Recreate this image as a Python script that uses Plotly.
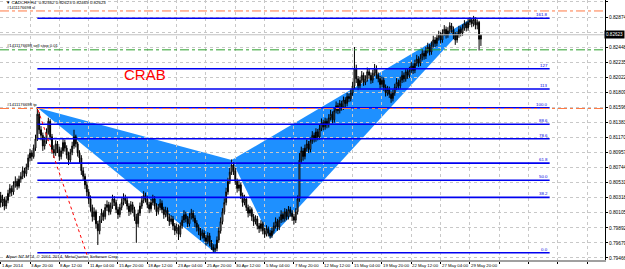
import plotly.graph_objects as go

# ---------------- data (CADCHF H4, 1 Apr - 30 May 2014) ----------------
opens = [
0.8030, 0.8035, 0.8025, 0.8030, 0.8020, 0.8028, 0.8038, 0.8045, 0.8040, 0.8050,
0.8055, 0.8048, 0.8058, 0.8062, 0.8070, 0.8066, 0.8075, 0.8088, 0.8095, 0.8090,
0.8102, 0.8115, 0.8150, 0.8128, 0.8120, 0.8105, 0.8112, 0.8125, 0.8140, 0.8118,
0.8100, 0.8095, 0.8108, 0.8100, 0.8090, 0.8098, 0.8110, 0.8102, 0.8092, 0.8085,
0.8096, 0.8105, 0.8118, 0.8108, 0.8095, 0.8088, 0.8070, 0.8062, 0.8050, 0.8040,
0.8030, 0.8018, 0.8005, 0.8012, 0.7995, 0.7985, 0.8000, 0.8010, 0.8005, 0.8018,
0.8022, 0.8012, 0.8020, 0.8030, 0.8025, 0.8015, 0.8008, 0.8018, 0.8025, 0.8032,
0.8028, 0.8020, 0.8012, 0.8022, 0.8015, 0.8005, 0.7995, 0.8010, 0.8020, 0.8028,
0.8035, 0.8030, 0.8022, 0.8016, 0.8025, 0.8030, 0.8020, 0.8012, 0.8018, 0.8024,
0.8015, 0.8008, 0.8014, 0.8005, 0.7998, 0.8002, 0.7992, 0.7985, 0.7990, 0.7980,
0.7992, 0.8000, 0.8008, 0.8002, 0.7995, 0.8005, 0.8010, 0.8003, 0.7996, 0.7990,
0.7985, 0.7978, 0.7982, 0.7975, 0.7970, 0.7978, 0.7968, 0.7962, 0.7958, 0.7960,
0.7972, 0.7985, 0.7998, 0.8012, 0.8025, 0.8040, 0.8055, 0.8068, 0.8078, 0.8070,
0.8055, 0.8045, 0.8050, 0.8035, 0.8025, 0.8030, 0.8018, 0.8010, 0.8015, 0.8005,
0.7998, 0.8002, 0.7992, 0.7988, 0.7995, 0.7985, 0.7980, 0.7988, 0.7982, 0.7978,
0.7985, 0.7992, 0.7998, 0.7990, 0.8000, 0.8008, 0.8002, 0.8012, 0.8005, 0.8015,
0.8010, 0.8005, 0.8000, 0.8012, 0.8030, 0.8085, 0.8098, 0.8090, 0.8102, 0.8108,
0.8100, 0.8112, 0.8120, 0.8115, 0.8125, 0.8118, 0.8130, 0.8138, 0.8132, 0.8140,
0.8135, 0.8145, 0.8150, 0.8142, 0.8155, 0.8162, 0.8155, 0.8165, 0.8160, 0.8170,
0.8165, 0.8175, 0.8172, 0.8180, 0.8190, 0.8215, 0.8200, 0.8190, 0.8198, 0.8205,
0.8195, 0.8200, 0.8210, 0.8205, 0.8198, 0.8208, 0.8215, 0.8205, 0.8200, 0.8192,
0.8198, 0.8188, 0.8180, 0.8185, 0.8178, 0.8172, 0.8180, 0.8188, 0.8195, 0.8190,
0.8198, 0.8205, 0.8200, 0.8210, 0.8205, 0.8212, 0.8218, 0.8212, 0.8222, 0.8228,
0.8222, 0.8230, 0.8236, 0.8232, 0.8240, 0.8245, 0.8238, 0.8248, 0.8255, 0.8250,
0.8258, 0.8262, 0.8255, 0.8265, 0.8270, 0.8262, 0.8268, 0.8275, 0.8270, 0.8262,
0.8255, 0.8262, 0.8270, 0.8265, 0.8272, 0.8278, 0.8272, 0.8280, 0.8283, 0.8278,
0.8284, 0.8276, 0.8280, 0.82562]

highs = [
0.8042, 0.8040, 0.8036, 0.8033, 0.8034, 0.8043, 0.8051, 0.8049, 0.8055, 0.8062,
0.8059, 0.8063, 0.8068, 0.8076, 0.8074, 0.8080, 0.8093, 0.8101, 0.8099, 0.8107,
0.8121, 0.8160, 0.8153, 0.8133, 0.8124, 0.8118, 0.8130, 0.8145, 0.8143, 0.8122,
0.8106, 0.8113, 0.8112, 0.8104, 0.8103, 0.8116, 0.8114, 0.8106, 0.8097, 0.8101,
0.8111, 0.8128, 0.8121, 0.8111, 0.8099, 0.8092, 0.8075, 0.8066, 0.8055, 0.8044,
0.8035, 0.8022, 0.8018, 0.8015, 0.7999, 0.8006, 0.8016, 0.8014, 0.8023, 0.8028,
0.8026, 0.8025, 0.8036, 0.8034, 0.8029, 0.8019, 0.8023, 0.8031, 0.8038, 0.8036,
0.8032, 0.8024, 0.8027, 0.8026, 0.8019, 0.8009, 0.8015, 0.8025, 0.8034, 0.8041,
0.8039, 0.8034, 0.8026, 0.8030, 0.8036, 0.8034, 0.8024, 0.8023, 0.8030, 0.8028,
0.8019, 0.8019, 0.8018, 0.8009, 0.8007, 0.8006, 0.7996, 0.7995, 0.7994, 0.7997,
0.8006, 0.8014, 0.8012, 0.8006, 0.8010, 0.8016, 0.8014, 0.8007, 0.8000, 0.7994,
0.7989, 0.7987, 0.7986, 0.7979, 0.7983, 0.7982, 0.7972, 0.7966, 0.7966, 0.7977,
0.7990, 0.8004, 0.8017, 0.8031, 0.8046, 0.8060, 0.8074, 0.8086, 0.8082, 0.8074,
0.8059, 0.8056, 0.8053, 0.8039, 0.8036, 0.8033, 0.8022, 0.8020, 0.8018, 0.8009,
0.8007, 0.8006, 0.7996, 0.8000, 0.7998, 0.7989, 0.7993, 0.7991, 0.7986, 0.7990,
0.7997, 0.8004, 0.8002, 0.8005, 0.8014, 0.8012, 0.8017, 0.8016, 0.8020, 0.8019,
0.8014, 0.8009, 0.8017, 0.8035, 0.8095, 0.8104, 0.8102, 0.8107, 0.8114, 0.8112,
0.8117, 0.8126, 0.8124, 0.8130, 0.8129, 0.8135, 0.8144, 0.8142, 0.8145, 0.8144,
0.8150, 0.8156, 0.8154, 0.8160, 0.8168, 0.8166, 0.8170, 0.8169, 0.8175, 0.8174,
0.8180, 0.8179, 0.8185, 0.8196, 0.8245, 0.8220, 0.8204, 0.8203, 0.8211, 0.8209,
0.8205, 0.8216, 0.8214, 0.8209, 0.8213, 0.8221, 0.8219, 0.8209, 0.8204, 0.8203,
0.8202, 0.8192, 0.8190, 0.8189, 0.8182, 0.8185, 0.8193, 0.8201, 0.8199, 0.8203,
0.8211, 0.8209, 0.8215, 0.8214, 0.8217, 0.8224, 0.8222, 0.8227, 0.8234, 0.8232,
0.8235, 0.8242, 0.8240, 0.8245, 0.8251, 0.8249, 0.8253, 0.8261, 0.8259, 0.8263,
0.8268, 0.8266, 0.8270, 0.8276, 0.8274, 0.8273, 0.8280, 0.8279, 0.8274, 0.8266,
0.8267, 0.8275, 0.8274, 0.8277, 0.8283, 0.8281, 0.8285, 0.8287, 0.8286, 0.8289,
0.8287, 0.8284, 0.8282, 0.82623]

lows = [
0.8020, 0.8018, 0.8019, 0.8014, 0.8016, 0.8024, 0.8033, 0.8034, 0.8036, 0.8046,
0.8043, 0.8045, 0.8053, 0.8058, 0.8060, 0.8062, 0.8071, 0.8083, 0.8084, 0.8087,
0.8098, 0.8112, 0.8122, 0.8113, 0.8098, 0.8100, 0.8108, 0.8121, 0.8113, 0.8094,
0.8088, 0.8091, 0.8095, 0.8084, 0.8086, 0.8094, 0.8097, 0.8087, 0.8078, 0.8082,
0.8092, 0.8101, 0.8103, 0.8090, 0.8081, 0.8064, 0.8056, 0.8044, 0.8034, 0.8023,
0.8012, 0.7998, 0.8000, 0.7988, 0.7965, 0.7980, 0.7996, 0.7999, 0.8001, 0.8013,
0.8007, 0.8008, 0.8016, 0.8020, 0.8010, 0.8002, 0.8004, 0.8014, 0.8021, 0.8023,
0.8015, 0.8006, 0.8008, 0.8010, 0.7999, 0.7968, 0.7990, 0.8006, 0.8016, 0.8024,
0.8025, 0.8017, 0.8010, 0.8012, 0.8021, 0.8015, 0.8006, 0.8008, 0.8014, 0.8010,
0.8002, 0.8004, 0.7999, 0.7992, 0.7994, 0.7986, 0.7979, 0.7981, 0.7972, 0.7976,
0.7988, 0.7996, 0.7997, 0.7990, 0.7991, 0.8001, 0.7998, 0.7990, 0.7984, 0.7979,
0.7972, 0.7974, 0.7970, 0.7964, 0.7966, 0.7963, 0.7958, 0.7955, 0.7954, 0.7956,
0.7968, 0.7981, 0.7994, 0.8008, 0.8021, 0.8036, 0.8051, 0.8064, 0.8064, 0.8050,
0.8039, 0.8041, 0.8030, 0.8019, 0.8021, 0.8013, 0.8004, 0.8006, 0.7999, 0.7992,
0.7994, 0.7987, 0.7982, 0.7984, 0.7980, 0.7975, 0.7977, 0.7977, 0.7974, 0.7975,
0.7981, 0.7988, 0.7985, 0.7986, 0.7996, 0.7997, 0.7998, 0.8000, 0.8001, 0.8005,
0.7999, 0.7994, 0.7996, 0.8008, 0.8026, 0.8080, 0.8084, 0.8086, 0.8097, 0.8095,
0.8096, 0.8108, 0.8110, 0.8111, 0.8113, 0.8114, 0.8126, 0.8127, 0.8128, 0.8130,
0.8131, 0.8141, 0.8137, 0.8138, 0.8151, 0.8150, 0.8151, 0.8155, 0.8156, 0.8160,
0.8161, 0.8167, 0.8168, 0.8176, 0.8186, 0.8194, 0.8184, 0.8186, 0.8194, 0.8190,
0.8191, 0.8196, 0.8200, 0.8193, 0.8194, 0.8204, 0.8200, 0.8195, 0.8186, 0.8188,
0.8183, 0.8175, 0.8176, 0.8173, 0.8166, 0.8168, 0.8176, 0.8184, 0.8185, 0.8186,
0.8194, 0.8195, 0.8196, 0.8200, 0.8201, 0.8208, 0.8207, 0.8208, 0.8218, 0.8217,
0.8218, 0.8226, 0.8227, 0.8228, 0.8236, 0.8233, 0.8234, 0.8244, 0.8245, 0.8246,
0.8254, 0.8250, 0.8251, 0.8261, 0.8257, 0.8258, 0.8264, 0.8265, 0.8256, 0.8248,
0.8251, 0.8258, 0.8260, 0.8261, 0.8268, 0.8267, 0.8268, 0.8276, 0.8273, 0.8274,
0.8270, 0.8270, 0.8240, 0.82465]

closes = [
0.8035, 0.8025, 0.8030, 0.8020, 0.8028, 0.8038, 0.8045, 0.8040, 0.8050, 0.8055,
0.8048, 0.8058, 0.8062, 0.8070, 0.8066, 0.8075, 0.8088, 0.8095, 0.8090, 0.8102,
0.8115, 0.8150, 0.8128, 0.8120, 0.8105, 0.8112, 0.8125, 0.8140, 0.8118, 0.8100,
0.8095, 0.8108, 0.8100, 0.8090, 0.8098, 0.8110, 0.8102, 0.8092, 0.8085, 0.8096,
0.8105, 0.8118, 0.8108, 0.8095, 0.8088, 0.8070, 0.8062, 0.8050, 0.8040, 0.8030,
0.8018, 0.8005, 0.8012, 0.7995, 0.7985, 0.8000, 0.8010, 0.8005, 0.8018, 0.8022,
0.8012, 0.8020, 0.8030, 0.8025, 0.8015, 0.8008, 0.8018, 0.8025, 0.8032, 0.8028,
0.8020, 0.8012, 0.8022, 0.8015, 0.8005, 0.7995, 0.8010, 0.8020, 0.8028, 0.8035,
0.8030, 0.8022, 0.8016, 0.8025, 0.8030, 0.8020, 0.8012, 0.8018, 0.8024, 0.8015,
0.8008, 0.8014, 0.8005, 0.7998, 0.8002, 0.7992, 0.7985, 0.7990, 0.7980, 0.7992,
0.8000, 0.8008, 0.8002, 0.7995, 0.8005, 0.8010, 0.8003, 0.7996, 0.7990, 0.7985,
0.7978, 0.7982, 0.7975, 0.7970, 0.7978, 0.7968, 0.7962, 0.7958, 0.7960, 0.7972,
0.7985, 0.7998, 0.8012, 0.8025, 0.8040, 0.8055, 0.8068, 0.8078, 0.8070, 0.8055,
0.8045, 0.8050, 0.8035, 0.8025, 0.8030, 0.8018, 0.8010, 0.8015, 0.8005, 0.7998,
0.8002, 0.7992, 0.7988, 0.7995, 0.7985, 0.7980, 0.7988, 0.7982, 0.7978, 0.7985,
0.7992, 0.7998, 0.7990, 0.8000, 0.8008, 0.8002, 0.8012, 0.8005, 0.8015, 0.8010,
0.8005, 0.8000, 0.8012, 0.8030, 0.8085, 0.8098, 0.8090, 0.8102, 0.8108, 0.8100,
0.8112, 0.8120, 0.8115, 0.8125, 0.8118, 0.8130, 0.8138, 0.8132, 0.8140, 0.8135,
0.8145, 0.8150, 0.8142, 0.8155, 0.8162, 0.8155, 0.8165, 0.8160, 0.8170, 0.8165,
0.8175, 0.8172, 0.8180, 0.8190, 0.8215, 0.8200, 0.8190, 0.8198, 0.8205, 0.8195,
0.8200, 0.8210, 0.8205, 0.8198, 0.8208, 0.8215, 0.8205, 0.8200, 0.8192, 0.8198,
0.8188, 0.8180, 0.8185, 0.8178, 0.8172, 0.8180, 0.8188, 0.8195, 0.8190, 0.8198,
0.8205, 0.8200, 0.8210, 0.8205, 0.8212, 0.8218, 0.8212, 0.8222, 0.8228, 0.8222,
0.8230, 0.8236, 0.8232, 0.8240, 0.8245, 0.8238, 0.8248, 0.8255, 0.8250, 0.8258,
0.8262, 0.8255, 0.8265, 0.8270, 0.8262, 0.8268, 0.8275, 0.8270, 0.8262, 0.8255,
0.8262, 0.8270, 0.8265, 0.8272, 0.8278, 0.8272, 0.8280, 0.8283, 0.8278, 0.8284,
0.8276, 0.8280, 0.8256, 0.82623]

bar_index = list(range(len(closes)))

time_tick_bars = [1, 17, 33, 49, 65, 81, 97, 113, 129, 145, 161, 177, 193, 209,
                  225, 241, 257, 273, 289, 305, 321]
time_tick_labels = ["1 Apr 2014", "3 Apr 20:00", "8 Apr 12:00", "11 Apr 04:00",
                    "15 Apr 20:00", "18 Apr 12:00", "23 Apr 04:00", "25 Apr 20:00",
                    "30 Apr 12:00", "5 May 04:00", "7 May 20:00", "12 May 12:00",
                    "15 May 04:00", "19 May 20:00", "22 May 12:00", "27 May 04:00",
                    "29 May 20:00"]

price_ticks = [0.83087, 0.82874, 0.82661, 0.82448, 0.82235, 0.82022, 0.81809,
               0.81596, 0.81383, 0.81170, 0.80957, 0.80744, 0.80531, 0.80318,
               0.80105, 0.79892, 0.79679, 0.79466]

# harmonic CRAB points X, A, B, C, D
pattern_bars = [21, 118, 127, 148, 259]
pattern_prices = [0.8159, 0.7954, 0.8085, 0.7974, 0.8287]

fib_ratios = [0.0, 0.382, 0.5, 0.618, 0.786, 0.886, 1.0, 1.13, 1.27, 1.618]
fib_labels = ["0.0", "38.2", "50.0", "61.8", "78.6", "88.6", "100.0", "113", "127", "161.8"]
fib_end_bar = 300.5

order_id = "#1411176698"
sl_price = 0.8296
entry_price = 0.8241
tp_price = 0.8158
last_price = 0.82623
header = "▼ CADCHF,H4  0.82562 0.82623 0.82465 0.82623"

trend_bars = [21.4, 48.6]
trend_prices = [0.8156, 0.7947]

# ---------------- figure ----------------
FONT = "Liberation Sans"
fig = go.Figure()

# pattern triangles XAB and BCD (drawn under the candles)
px_, pa, pb, pc, pd = pattern_bars
yx, ya, yb, yc, yd = pattern_prices
for (x1, y1), (x2, y2), (x3, y3) in [((px_, yx), (pa, ya), (pb, yb)),
                                     ((pb, yb), (pc, yc), (pd, yd))]:
    fig.add_shape(type="path", xref="x", yref="y",
                  path=f"M {x1},{y1} L {x2},{y2} L {x3},{y3} Z",
                  fillcolor="#1e90ff", line=dict(width=0), layer="below")

# horizontal order / price lines
for price, color, dash in [(last_price, "#c0c0c0", "solid"),
                           (sl_price, "#ff7a45", "dashdot"),
                           (tp_price, "#ff7a45", "dashdot"),
                           (entry_price, "#2ca02c", "dashdot")]:
    fig.add_shape(type="line", xref="paper", yref="y", x0=0, x1=1, y0=price, y1=price,
                  line=dict(color=color, width=1, dash=dash))

# fib levels
for r, lab in zip(fib_ratios, fib_labels):
    lvl = ya + r * (yx - ya)
    fig.add_trace(go.Scatter(x=[px_, fib_end_bar], y=[lvl, lvl], mode="lines",
                             line=dict(color="#0000f0", width=1.6),
                             hoverinfo="skip", showlegend=False))
    fig.add_annotation(x=fib_end_bar, y=lvl, text=lab, showarrow=False,
                       xanchor="right", yanchor="bottom", yshift=-1,
                       font=dict(family=FONT, size=4.4, color="#0000e0"))

# red dotted trend line
fig.add_trace(go.Scatter(x=trend_bars, y=trend_prices, mode="lines",
                         line=dict(color="#ff0000", width=1, dash="dot"),
                         hoverinfo="skip", showlegend=False))

# candles
fig.add_trace(go.Candlestick(
    x=bar_index, open=opens, high=highs, low=lows, close=closes,
    increasing=dict(line=dict(color="#000000", width=1), fillcolor="#ffffff"),
    decreasing=dict(line=dict(color="#000000", width=1), fillcolor="#000000"),
    whiskerwidth=0, showlegend=False, hoverinfo="skip"))

# time axis labels (left-aligned at their tick, MT4 style)
for b, lab in zip(time_tick_bars, time_tick_labels):
    fig.add_annotation(x=b, xref="x", yref="paper", y=0, text=lab, showarrow=False,
                       xanchor="left", yanchor="top", xshift=-1, yshift=-1,
                       font=dict(family=FONT, size=4.3, color="#000000"))

# texts
fig.add_annotation(xref="paper", yref="paper", x=0.006, y=1.0, text=header,
                   showarrow=False, xanchor="left", yanchor="top", yshift=2,
                   font=dict(family=FONT, size=4.4, color="#000000"))
fig.add_annotation(xref="paper", x=0.008, y=sl_price, text=order_id + " sl",
                   showarrow=False, xanchor="left", yanchor="middle", yshift=3,
                   font=dict(family=FONT, size=4, color="#000000"))
fig.add_annotation(xref="paper", x=0.008, y=entry_price, text=order_id + " sell stop 0.01",
                   showarrow=False, xanchor="left", yanchor="bottom", yshift=0,
                   font=dict(family=FONT, size=4.2, color="#000000"))
fig.add_annotation(xref="paper", x=0.008, y=tp_price, text=order_id + " tp",
                   showarrow=False, xanchor="left", yanchor="bottom", yshift=0,
                   font=dict(family=FONT, size=4.2, color="#000000"))
fig.add_annotation(xref="paper", yref="paper", x=0.24, y=0.712, text="CRAB",
                   showarrow=False, xanchor="center", yanchor="middle",
                   font=dict(family=FONT, size=15, color="#ff0000"))
fig.add_annotation(xref="paper", yref="paper", x=0.006, y=0.015,
                   text="Alpari NZ MT4, © 2001-2014, MetaQuotes Software Corp.",
                   showarrow=False, xanchor="left", yanchor="middle",
                   font=dict(family=FONT, size=4.4, color="#000000"))
fig.add_annotation(xref="paper", x=1.0, y=last_price, text="0.82623",
                   showarrow=False, xanchor="left", yanchor="middle",
                   bgcolor="#000000", borderpad=1, xshift=-1,
                   font=dict(family=FONT, size=4.6, color="#ffffff"))

# price labels: the one under the current-price tag is hidden, as in the terminal
price_tick_text = ["" if abs(v - last_price) < 0.0006 else f"{v:.5f}" for v in price_ticks]

fig.update_layout(
    width=625, height=269,
    margin=dict(l=0, r=20, t=0, b=9),
    plot_bgcolor="#ffffff", paper_bgcolor="#ffffff",
    showlegend=False,
    xaxis=dict(range=[0.63, 330.7], tickvals=time_tick_bars, showticklabels=False,
               ticks="outside", ticklen=2, tickcolor="#000000",
               showgrid=True, gridcolor="#c8c8c8", griddash="dot", gridwidth=1,
               showline=True, linecolor="#a0a0a0", linewidth=2,
               zeroline=False, rangeslider=dict(visible=False), automargin=False,
               fixedrange=True),
    yaxis=dict(range=[0.79437, 0.83115], side="right", tickvals=price_ticks,
               ticktext=price_tick_text,
               ticks="outside", ticklen=2, tickcolor="#000000",
               tickfont=dict(family=FONT, size=4.8, color="#000000"),
               showgrid=True, gridcolor="#c8c8c8", griddash="dot", gridwidth=1,
               showline=True, linecolor="#000000", linewidth=1,
               zeroline=False, automargin=False, fixedrange=True),
)

fig.write_html("out.html")
